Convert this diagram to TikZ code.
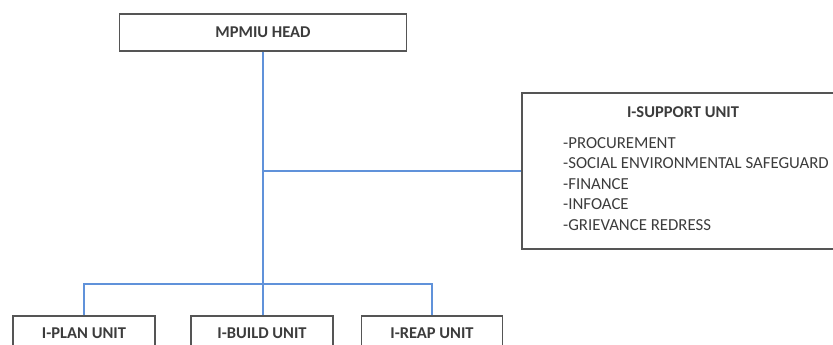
\documentclass[tikz,border=0pt]{standalone}
\usepackage{fontspec}
\setmainfont{Carlito}
\definecolor{linkblue}{RGB}{96,146,218}
\definecolor{boxgray}{RGB}{85,85,85}
\definecolor{textgray}{RGB}{60,60,60}
\tikzset{
  unitbox/.style={draw=boxgray,line width=1.4pt,inner sep=0pt,text=textgray,font=\bfseries\fontsize{16.5}{20}\selectfont},
  link/.style={draw=linkblue,line width=1.5pt},
}
\begin{document}
\begin{tikzpicture}[x=1pt,y=-1pt] %Organigrama MPMIU
  \useasboundingbox (0,0) rectangle (833,345);
  \clip (0,0) rectangle (833,345);

  \node[unitbox,minimum width=287pt,minimum height=37pt] (head) at (263,32.5) {MPMIU HEAD};

  \node[unitbox,minimum width=142pt,minimum height=34pt] (plan) at (84,333) {I-PLAN UNIT};
  \node[unitbox,minimum width=142pt,minimum height=34pt] (build) at (262,333) {I-BUILD UNIT};
  \node[unitbox,minimum width=141pt,minimum height=34pt] (reap) at (432,333) {I-REAP UNIT};

  \node[unitbox,minimum width=322pt,minimum height=156pt] (support) at (683,171) {};
  \node[text=textgray,font=\bfseries\fontsize{16.5}{20}\selectfont] (supporttitle) at (683,112) {I-SUPPORT UNIT};
  \node[text=textgray,font=\fontsize{16.8}{20.6}\selectfont,align=left,anchor=north west,inner sep=0pt] (supportlist) at (563,137)
    {-PROCUREMENT\\-SOCIAL ENVIRONMENTAL SAFEGUARD\\-FINANCE\\-INFOACE\\-GRIEVANCE REDRESS};

  \coordinate (bus) at (head.south |- 0,284);
  \coordinate (side) at (head.south |- support.west);

  \draw[link] (head.south) -- (bus);
  \draw[link] (side) -- (support.west);
  \draw[link] (plan.north) |- (bus) -| (reap.north);
  \draw[link] (bus) -- (head.south |- build.north);
\end{tikzpicture}
\end{document}
